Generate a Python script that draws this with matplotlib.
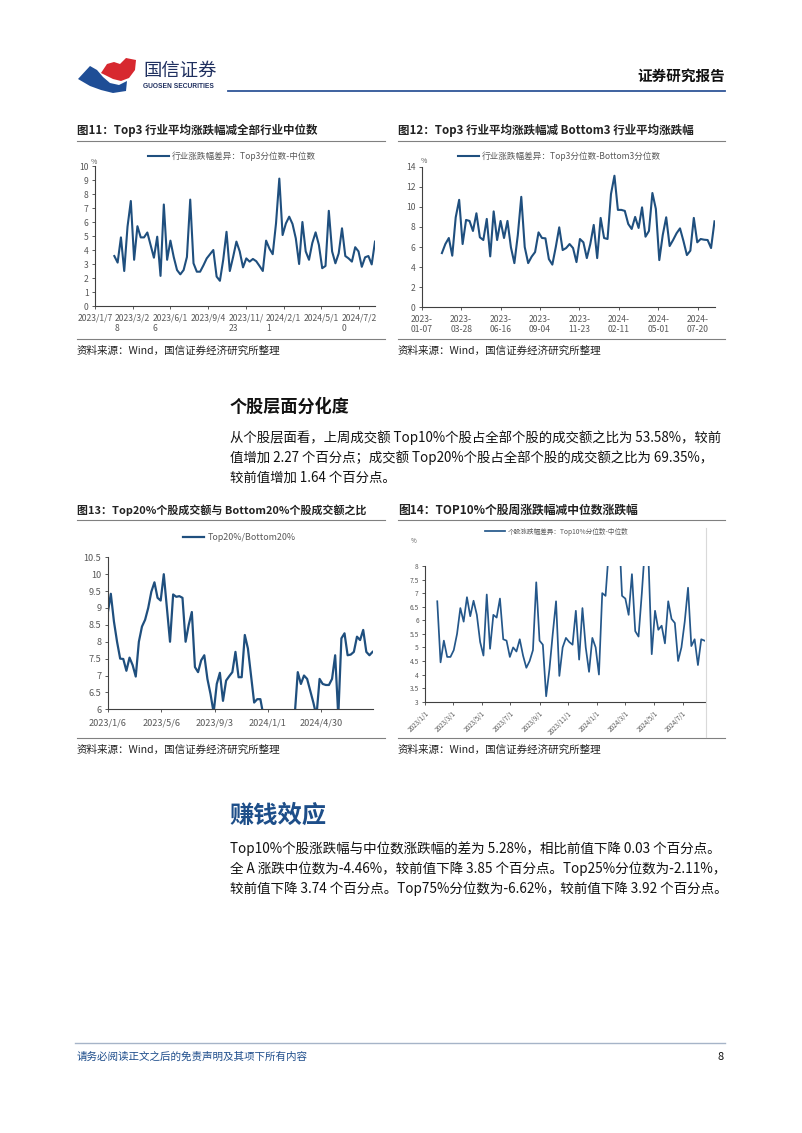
import matplotlib
matplotlib.use('Agg')
import matplotlib.pyplot as plt
import pandas as pd
from matplotlib.lines import Line2D
from matplotlib.patches import Polygon

plt.rcParams['font.family'] = ['Noto Sans CJK SC', 'DejaVu Sans']

# ---------------- data ----------------
# Fig 11: Top3 industry avg change minus median of all industries (weekly)
start11 = '2023-02-17'
top3_minus_median = [3.57, 3.1, 4.9, 2.5, 5.67, 7.5, 3.3, 5.7, 4.9, 4.9, 5.25, 4.35, 3.45, 4.95, 2.15,
                     7.25, 3.3, 4.67, 3.5, 2.57, 2.26, 2.57, 3.5, 7.6, 3.05, 2.45, 2.45, 2.9, 3.4, 3.7,
                     4.0, 2.1, 1.8, 3.3, 5.3,
                     2.5, 3.5, 4.6, 3.9, 2.76, 3.4, 3.17, 3.36, 3.2, 2.86, 2.5, 4.67, 4.1, 3.7, 5.9,
                     9.1, 5.07, 5.9, 6.38, 5.86, 4.83, 3.0, 6.0, 3.9, 3.3, 4.5, 5.26, 4.36, 2.7, 2.86,
                     6.8, 3.9, 3.05, 3.76, 5.55, 3.57, 3.4, 3.17, 4.2, 3.9, 2.8, 3.48, 3.57, 2.97, 4.6]
ticks11 = ['2023-01-07', '2023-03-28', '2023-06-16', '2023-09-04', '2023-11-23',
           '2024-02-11', '2024-05-01', '2024-07-20']
labels11 = ['2023/1/7', '2023/3/2\n8', '2023/6/1\n6', '2023/9/4', '2023/11/\n23',
            '2024/2/1\n1', '2024/5/1', '2024/7/2\n0']

# Fig 12: Top3 minus Bottom3
start12 = '2023-02-17'
top3_minus_bottom3 = [5.4, 6.3, 6.9, 5.14, 8.96, 10.7, 6.3, 8.7, 8.6, 7.6, 9.36, 6.97, 6.7, 8.8, 5.07,
                      9.55, 6.7, 8.6, 6.9, 8.6, 5.97, 4.4, 7.2, 11.0, 6.0, 4.4, 5.04, 5.5, 7.46, 6.9,
                      6.87, 4.8, 4.25, 6.0, 7.96,
                      5.7, 5.9, 6.3, 5.9, 4.5, 6.8, 6.47, 4.9, 6.3, 8.2, 4.9, 8.9, 6.9, 6.8, 11.28,
                      13.1, 9.7, 9.7, 9.6, 8.3, 7.8, 9.0, 7.9, 9.95, 7.03, 7.6, 11.38, 9.8, 4.7, 7.2,
                      8.96, 6.1, 6.7, 7.37, 7.86, 6.6, 5.2, 5.64, 8.9, 6.47, 6.8, 6.73, 6.7, 5.9, 8.56]
ticks12 = ticks11
labels12 = ['2023-\n01-07', '2023-\n03-28', '2023-\n06-16', '2023-\n09-04', '2023-\n11-23',
            '2024-\n02-11', '2024-\n05-01', '2024-\n07-20']

# Fig 13: Top20% / Bottom20% turnover ratio
start13 = '2023-01-06'
top20_bottom20 = [8.84, 9.42, 8.6, 8.0, 7.5, 7.49, 7.14, 7.53, 7.31, 6.97, 8.0, 8.45, 8.65, 9.0, 9.48,
                  9.76, 9.3, 9.22, 10.0, 9.0, 8.0, 9.4, 9.33, 9.35, 9.3, 8.0, 8.5, 8.88, 7.25, 7.1,
                  7.45, 7.6, 6.9, 6.45, 5.9, 6.75, 7.08, 6.25, 6.85, 6.98, 7.1, 7.7, 6.95, 6.95, 8.2,
                  7.8, 7.0, 6.2, 6.3, 6.3, 5.8,
                  5.5, 5.3, 5.4, 5.2, 5.3, 5.1, 5.2, 5.4, 5.6, 5.8,
                  7.1, 6.75, 7.0, 6.9, 6.55, 6.2, 5.8, 6.9, 6.75, 6.72, 6.72, 6.9, 7.6, 5.8, 8.1,
                  8.25, 7.6, 7.62, 7.7, 8.15, 8.05, 8.35, 7.7, 7.6, 7.7]
ticks13 = ['2023-01-06', '2023-05-06', '2023-09-03', '2024-01-01', '2024-04-30']
labels13 = ['2023/1/6', '2023/5/6', '2023/9/3', '2024/1/1', '2024/4/30']
yticks13 = [6, 6.5, 7, 7.5, 8, 8.5, 9, 9.5, 10, 10.5]

# Fig 14: Top10% stock weekly change minus median
start14 = '2023-01-27'
top10_minus_median = [6.7, 4.45, 5.25, 4.65, 4.65, 4.9, 5.5, 6.45, 5.95, 6.85, 6.15, 6.72, 6.2, 5.2,
                      4.7, 6.95, 4.95, 6.2, 6.1, 6.8, 5.3, 5.25, 4.65, 5.0, 4.85, 5.3, 4.7, 4.25, 4.5,
                      4.9, 7.4, 5.25, 5.1, 3.2, 4.2, 5.5, 6.7, 3.95, 5.0, 5.35, 5.2, 5.1, 6.35, 4.55,
                      6.45, 5.0, 4.1, 5.35, 5.0, 4.0, 7.0, 6.9,
                      8.6, 9.2, 9.5, 9.5,
                      6.9, 6.8, 6.2, 7.7, 5.6, 5.4, 7.0, 8.8, 8.3,
                      4.75, 6.35, 5.65, 5.8, 5.15, 6.7, 6.05, 5.9, 4.5, 5.0, 5.95, 7.2, 5.05, 5.3,
                      4.35, 5.3, 5.25]
ticks14 = ['2023-01-01', '2023-03-01', '2023-05-01', '2023-07-01', '2023-09-01', '2023-11-01',
           '2024-01-01', '2024-03-01', '2024-05-01', '2024-07-01']
labels14 = ['2023/1/1', '2023/3/1', '2023/5/1', '2023/7/1', '2023/9/1', '2023/11/1',
            '2024/1/1', '2024/3/1', '2024/5/1', '2024/7/1']
yticks14 = [3, 3.5, 4, 4.5, 5, 5.5, 6, 6.5, 7, 7.5, 8]

# ---------------- layout helpers ----------------
W, H = 802, 1133
fig = plt.figure(figsize=(W / 100, H / 100), dpi=100)
fig.patch.set_facecolor('white')

LINE = '#1f4f7e'
GREY = '#595959'
NAVY = '#1d4e89'


def ax_at(x0, x1, y0, y1):
    return fig.add_axes([x0 / W, 1 - y1 / H, (x1 - x0) / W, (y1 - y0) / H])


def ftext(x, y, s, **kw):
    kw.setdefault('va', 'center')
    return fig.text(x / W, 1 - y / H, s, **kw)


def hline(x0, x1, y, **kw):
    fig.add_artist(Line2D([x0 / W, x1 / W], [1 - y / H, 1 - y / H], **kw))


def vline(x, y0, y1, **kw):
    fig.add_artist(Line2D([x / W, x / W], [1 - y0 / H, 1 - y1 / H], **kw))


def style(ax, labelsize):
    for s in ['top', 'right']:
        ax.spines[s].set_visible(False)
    for s in ['left', 'bottom']:
        ax.spines[s].set_color('#404040')
        ax.spines[s].set_linewidth(0.8)
    ax.tick_params(direction='out', length=2.5, width=0.6, colors='#404040',
                   labelsize=labelsize, labelcolor=GREY, pad=2)
    ax.patch.set_alpha(0)


def legend(ax, x, y, fs, hl):
    ax.legend(loc='center left', bbox_to_anchor=(x / W, 1 - y / H), bbox_transform=fig.transFigure,
              frameon=False, fontsize=fs, handlelength=hl, borderpad=0, borderaxespad=0,
              handletextpad=0.4, labelcolor=GREY)


# ---------------- header ----------------
red = [(101, 73), (107, 64), (114, 62), (120, 64), (126, 58), (136, 60), (135, 70), (129, 78),
       (121, 81), (113, 79), (107, 76)]
blue = [(78, 79), (90, 66), (97, 70), (103, 77), (110, 83), (119, 85), (127, 81), (126, 91),
        (113, 93), (101, 90), (90, 86)]
fig.add_artist(Polygon([(x / W, 1 - y / H) for x, y in red], closed=True, transform=fig.transFigure,
                       facecolor='#d7282f', edgecolor='none'))
fig.add_artist(Polygon([(x / W, 1 - y / H) for x, y in blue], closed=True, transform=fig.transFigure,
                       facecolor='#1f4e96', edgecolor='none'))
ftext(143, 71, '国信证券', fontsize=13.2, color='#1f2f5f')
ftext(143, 87, 'GUOSEN SECURITIES', fontsize=4.8, color='#1f2f5f', fontweight='bold',
      family=['Liberation Sans', 'DejaVu Sans'])
ftext(725, 76, '证券研究报告', fontsize=10.5, fontweight='bold', ha='right', color='#111111')
hline(228, 725, 91, color='#2f5597', lw=1.3)

# ---------------- chart titles / frames ----------------
for x0, x1, y_t, y_l, y_b, y_s, title, tfs in [
        (77, 385, 130, 141, 339, 351, '图11：Top3 行业平均涨跌幅减全部行业中位数', 8.3),
        (398, 725, 130, 141, 339, 351, '图12：Top3 行业平均涨跌幅减 Bottom3 行业平均涨跌幅', 8.3),
        (77, 385, 510, 520, 738, 750, '图13：Top20%个股成交额与 Bottom20%个股成交额之比', 7.9),
        (398, 725, 510, 520, 738, 750, '图14：TOP10%个股周涨跌幅减中位数涨跌幅', 8.5)]:
    ftext(x0, y_t, title, fontsize=tfs, fontweight='bold', color='#222222')
    hline(x0, x1, y_l, color='#808080', lw=0.8)
    hline(x0, x1, y_b, color='#808080', lw=0.8)
    ftext(x0, y_s, '资料来源：Wind，国信证券经济研究所整理', fontsize=7.6, color='#222222')

# ---------------- chart 11 ----------------
ax = ax_at(95, 375, 166, 306)
d = pd.date_range(start11, periods=len(top3_minus_median), freq='7D')
ax.plot(d, top3_minus_median, color=LINE, lw=1.5, label='行业涨跌幅差异：Top3分位数-中位数')
ax.set_xlim(pd.Timestamp('2023-01-07'), d[-1])
ax.set_ylim(0, 10)
ax.set_yticks(range(0, 11))
ax.set_xticks(pd.to_datetime(ticks11))
ax.set_xticklabels(labels11, ha='center', multialignment='left')
style(ax, 6.2)
ax.tick_params(axis='x', pad=3)
legend(ax, 148, 156, 6.2, 2.4)
ftext(91, 162, '%', fontsize=5, color=GREY)

# ---------------- chart 12 ----------------
ax = ax_at(421.7, 715, 166.7, 307.3)
d = pd.date_range(start12, periods=len(top3_minus_bottom3), freq='7D')
ax.plot(d, top3_minus_bottom3, color=LINE, lw=1.5, label='行业涨跌幅差异：Top3分位数-Bottom3分位数')
ax.set_xlim(pd.Timestamp('2023-01-07'), d[-1] + pd.Timedelta(days=1))
ax.set_ylim(0, 14)
ax.set_yticks(range(0, 15, 2))
ax.set_xticks(pd.to_datetime(ticks12))
ax.set_xticklabels(labels12, ha='center')
style(ax, 6.2)
ax.tick_params(axis='x', pad=3)
legend(ax, 458, 156.7, 6.2, 2.4)
ftext(421, 161, '%', fontsize=5, color=GREY)

# ---------------- chart 13 ----------------
ax = ax_at(107.7, 373, 557.3, 709.3)
d = pd.date_range(start13, periods=len(top20_bottom20), freq='7D')
ax.plot(d, top20_bottom20, color=LINE, lw=1.6, label='Top20%/Bottom20%')
ax.set_xlim(pd.Timestamp('2023-01-06'), pd.Timestamp('2024-08-24'))
ax.set_ylim(6, 10.5)
ax.set_yticks(yticks13)
ax.set_yticklabels([f'{v:g}' for v in yticks13])
ax.set_xticks(pd.to_datetime(ticks13))
ax.set_xticklabels(labels13)
style(ax, 6.6)
ax.tick_params(axis='x', pad=4)
legend(ax, 183, 537.7, 6.4, 2.4)

# ---------------- chart 14 ----------------
ax = ax_at(425, 705, 566, 701.7)
d = pd.date_range(start14, periods=len(top10_minus_median), freq='7D')
ax.plot(d, top10_minus_median, color='#24578a', lw=1.25, label='个股涨跌幅差异：Top10%分位数-中位数')
ax.set_xlim(pd.Timestamp('2023-01-01'), pd.Timestamp('2024-08-17'))
ax.set_ylim(3, 8)
ax.set_yticks(yticks14)
ax.set_yticklabels([f'{v:g}' for v in yticks14])
ax.set_xticks(pd.to_datetime(ticks14))
ax.set_xticklabels(labels14, rotation=45, ha='right', rotation_mode='anchor')
style(ax, 4.8)
ax.tick_params(axis='x', labelsize=4.6, pad=3)
legend(ax, 485, 531.7, 4.8, 3.0)
ftext(411, 541, '%', fontsize=4.5, color=GREY)
vline(706, 528, 737, color='#d9d9d9', lw=0.8)

# ---------------- body text ----------------
ftext(230, 407, '个股层面分化度', fontsize=12.3, fontweight='bold', color='#111111')
body1 = ['从个股层面看，上周成交额 Top10%个股占全部个股的成交额之比为 53.58%，较前',
         '值增加 2.27 个百分点；成交额 Top20%个股占全部个股的成交额之比为 69.35%，',
         '较前值增加 1.64 个百分点。']
for i, s in enumerate(body1):
    ftext(230, 438 + i * 19.7, s, fontsize=9.65, color='#111111')

ftext(229, 816, '赚钱效应', fontsize=17.5, fontweight='bold', color=NAVY)
body2 = ['Top10%个股涨跌幅与中位数涨跌幅的差为 5.28%，相比前值下降 0.03 个百分点。',
         '全 A 涨跌中位数为-4.46%，较前值下降 3.85 个百分点。Top25%分位数为-2.11%，',
         '较前值下降 3.74 个百分点。Top75%分位数为-6.62%，较前值下降 3.92 个百分点。']
for i, s in enumerate(body2):
    ftext(230, 849 + i * 20, s, fontsize=9.75, color='#111111')

# ---------------- footer ----------------
hline(75, 725, 1043, color='#a6b4c8', lw=1.0)
ftext(77, 1057, '请务必阅读正文之后的免责声明及其项下所有内容', fontsize=7.6, color='#1f4e8c')
ftext(724, 1057, '8', fontsize=8, ha='right', color='#111111')

fig.savefig('out.png', dpi=100, facecolor='white')
